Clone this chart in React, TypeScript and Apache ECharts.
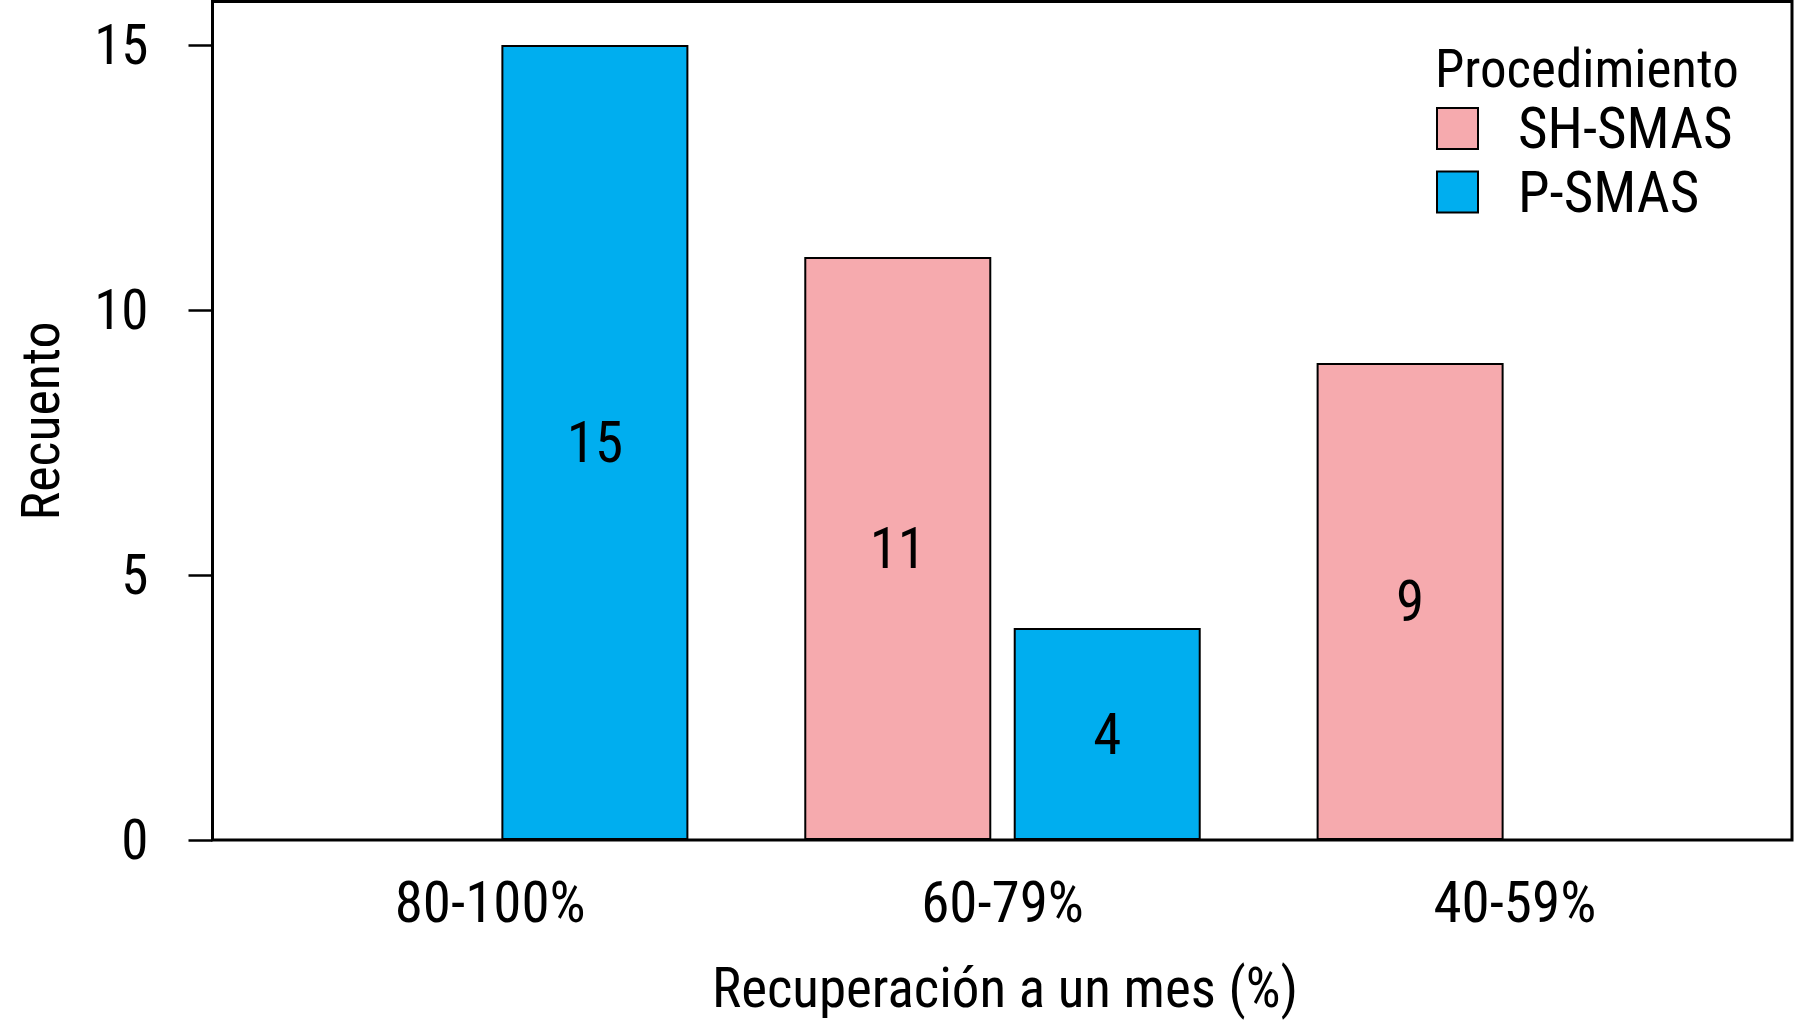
import React, { useEffect, useRef } from "react";
import * as echarts from "echarts";

const categories = ["80-100%", "60-79%", "40-59%"];
const seriesNames = ["SH-SMAS", "P-SMAS"];
const shSmas = [null, 11, 9];
const pSmas = [15, 4, null];
const yTicks = { min: 0, max: 15, interval: 5 };
const xTitle = "Recuperación a un mes (%)";
const yTitle = "Recuento";
const legendTitle = "Procedimiento";

const FONT =
  "'Liberation Sans Narrow', 'Nimbus Sans Narrow', 'Arial Narrow', 'Roboto Condensed', 'DejaVu Sans Condensed', 'Liberation Sans', sans-serif";
const PINK = "#F6AAAE";
const BLUE = "#00AEEF";

export default function App() {
  const ref = useRef<HTMLDivElement>(null);
  useEffect(() => {
    if (!ref.current) return;
    const chart = echarts.init(ref.current, null, { renderer: "svg" });
    const barCommon = {
      type: "bar",
      barWidth: 187,
      barGap: "12%",
      label: {
        show: true,
        position: "inside",
        color: "#000",
        fontSize: 57,
        fontFamily: FONT,
      },
    };
    chart.setOption({
      animation: false,
      backgroundColor: "#fff",
      textStyle: { fontFamily: FONT },
      grid: { left: 234, right: 25, top: 45, bottom: 184, containLabel: false },
      xAxis: {
        type: "category",
        data: categories,
        axisLine: { show: false },
        axisTick: { show: false },
        axisLabel: {
          color: "#000",
          fontSize: 57,
          fontFamily: FONT,
          margin: 62,
          verticalAlign: "middle",
        },
      },
      yAxis: {
        type: "value",
        min: yTicks.min,
        max: yTicks.max,
        interval: yTicks.interval,
        offset: 21.5,
        splitLine: { show: false },
        axisLine: { show: false },
        axisTick: {
          show: true,
          length: 24,
          lineStyle: { color: "#000", width: 2.5 },
        },
        axisLabel: {
          color: "#000",
          fontSize: 55,
          fontFamily: FONT,
          margin: 64,
        },
      },
      legend: {
        orient: "vertical",
        left: 1436,
        top: 100,
        padding: 0,
        itemWidth: 41,
        itemHeight: 41,
        itemGap: 6.5,
        icon: "rect",
        data: seriesNames,
        textStyle: {
          color: "#000",
          fontSize: 57,
          fontFamily: FONT,
          padding: [0, 0, 0, 35],
        },
      },
      graphic: [
        {
          type: "rect",
          shape: { x: 212.5, y: 1.5, width: 1579.5, height: 838.5 },
          style: { fill: "none", stroke: "#000", lineWidth: 3 },
          z: 10,
        },
        {
          type: "text",
          x: 1435,
          y: 69,
          style: {
            text: legendTitle,
            fontSize: 53,
            fontFamily: FONT,
            fill: "#000",
            align: "left",
            verticalAlign: "middle",
          },
        },
        {
          type: "text",
          x: 1005,
          y: 988,
          style: {
            text: xTitle,
            fontSize: 55,
            fontFamily: FONT,
            fill: "#000",
            align: "center",
            verticalAlign: "middle",
          },
        },
        {
          type: "text",
          x: 40,
          y: 421,
          rotation: Math.PI / 2,
          style: {
            text: yTitle,
            fontSize: 54,
            fontFamily: FONT,
            fill: "#000",
            align: "center",
            verticalAlign: "middle",
          },
        },
      ],
      series: [
        {
          ...barCommon,
          name: seriesNames[0],
          data: shSmas,
          itemStyle: { color: PINK, borderColor: "#000", borderWidth: 2 },
        },
        {
          ...barCommon,
          name: seriesNames[1],
          data: pSmas,
          itemStyle: { color: BLUE, borderColor: "#000", borderWidth: 2 },
        },
      ],
    });
    return () => chart.dispose();
  }, []);
  return (
    <div
      ref={ref}
      style={{ position: "fixed", left: 0, top: 0, width: 1796, height: 1024 }}
    />
  );
}
